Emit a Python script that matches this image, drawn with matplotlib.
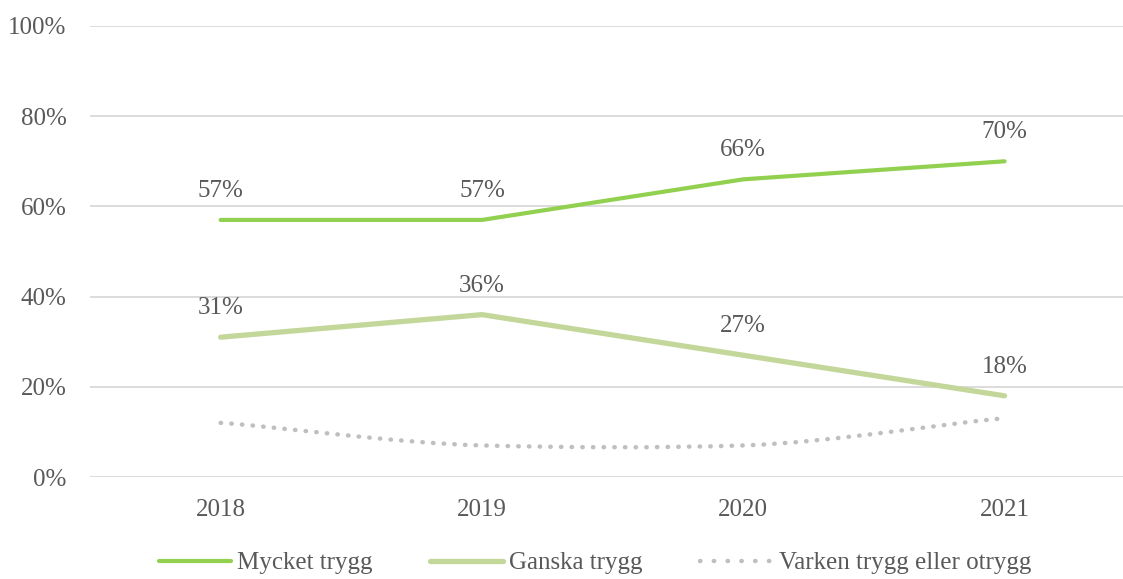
import matplotlib
matplotlib.use("Agg")
import matplotlib.pyplot as plt
from matplotlib.path import Path
from matplotlib.patches import PathPatch
from matplotlib.lines import Line2D

years = ["2018", "2019", "2020", "2021"]
mycket = [57, 57, 66, 70]
ganska = [31, 36, 27, 18]
varken = [12, 7, 7, 13]
yticks = [0, 20, 40, 60, 80, 100]
ytick_labels = ["0%", "20%", "40%", "60%", "80%", "100%"]

TXT = "#595959"
GRID = "#D9D9D9"
C1 = "#92D050"
C2 = "#C4D79B"
C3 = "#BFBFBF"
FS = 18

plt.rcParams['font.family'] = ['Liberation Serif', 'DejaVu Serif']

fig = plt.figure(figsize=(11.23, 5.79), dpi=100)
ax = fig.add_axes([90/1123, 1 - 477/579, (1123 - 90)/1123, (477 - 26)/579])

x = list(range(len(years)))
ax.set_xlim(-0.5, -0.5 + (1123 - 90) / 261.3)
ax.set_ylim(0, 100)

for s in ax.spines.values():
    s.set_visible(False)
ax.set_yticks(yticks)
ax.set_yticklabels(ytick_labels)
ax.set_xticks(x)
ax.set_xticklabels(years)
ax.tick_params(length=0, colors=TXT, labelsize=FS)
ax.tick_params(axis='y', pad=17)
ax.tick_params(axis='x', pad=16)
ax.yaxis.grid(True, color=GRID, linewidth=1.3)
ax.set_axisbelow(True)

ax.plot(x, mycket, color=C1, lw=3.0, solid_capstyle='round', zorder=3)
ax.plot(x, ganska, color=C2, lw=3.8, solid_capstyle='round', zorder=3)

# smoothed dotted line (Bezier through the data points)
K = 10.0
pts = list(zip(x, varken))
verts = [pts[0]]
codes = [Path.MOVETO]
n = len(pts)
for i in range(n - 1):
    p0 = pts[i - 1] if i > 0 else pts[i]
    p1 = pts[i]
    p2 = pts[i + 1]
    p3 = pts[i + 2] if i + 2 < n else pts[i + 1]
    c1 = (p1[0] + (p2[0] - p0[0]) / 6, p1[1] + (p2[1] - p0[1]) / K)
    c2 = (p2[0] - (p3[0] - p1[0]) / 6, p2[1] - (p3[1] - p1[1]) / K)
    verts += [c1, c2, p2]
    codes += [Path.CURVE4] * 3
patch = PathPatch(Path(verts, codes), fill=False, edgecolor=C3, lw=3.2,
                  linestyle=(0, (0.1, 2.3)), capstyle='round', zorder=3)
ax.add_patch(patch)

for series in (mycket, ganska):
    for xi, v in zip(x, series):
        ax.annotate(f"{v}%", (xi, v), xytext=(0, 13), textcoords='offset points',
                    ha='center', va='bottom', color=TXT, fontsize=FS)

handles = [
    Line2D([], [], color=C1, lw=3.0, solid_capstyle='round'),
    Line2D([], [], color=C2, lw=3.8, solid_capstyle='round'),
    Line2D([], [], color=C3, lw=3.2, linestyle=(0, (0.1, 3.0)), dash_capstyle='round'),
]
labels = ["Mycket trygg", "Ganska trygg", "Varken trygg eller otrygg"]
fig.legend(handles, labels, loc='center', bbox_to_anchor=(595/1123, 1 - 563/579),
           ncol=3, frameon=False, fontsize=FS, handlelength=2.9, handletextpad=0.25,
           columnspacing=2.3, labelcolor=TXT)

fig.savefig("out.png", dpi=100)
